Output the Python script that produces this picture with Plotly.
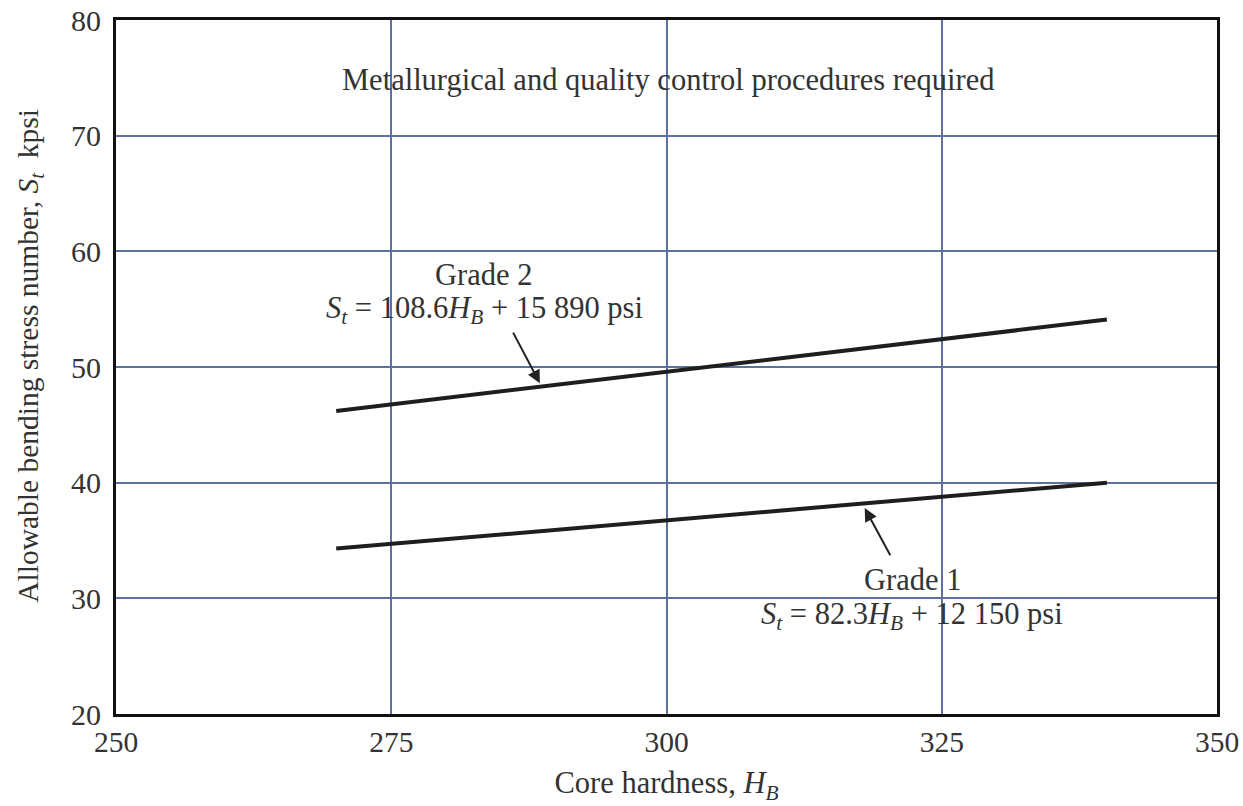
import plotly.graph_objects as go

# ---- data ----
hardness = [270, 340]
grade2_kpsi = [46.2, 54.1]
grade1_kpsi = [34.3, 40.0]
x_ticks = [250, 275, 300, 325, 350]
y_ticks = [20, 30, 40, 50, 60, 70, 80]

FONT = "Liberation Serif"
TXT = "#333333"
GRID = "rgb(95,112,160)"

fig = go.Figure()
fig.add_trace(go.Scatter(x=hardness, y=grade2_kpsi, mode="lines", name="Grade 2",
                         line=dict(color="#1e1e1e", width=4), showlegend=False))
fig.add_trace(go.Scatter(x=hardness, y=grade1_kpsi, mode="lines", name="Grade 1",
                         line=dict(color="#1e1e1e", width=4), showlegend=False))

ann_font = dict(family=FONT, size=30.5, color=TXT)
annotations = [
    dict(x=300.1, y=74.8, text="Metallurgical and quality control procedures required",
         showarrow=False, font=ann_font, xref="x", yref="y"),
    dict(x=283.4, y=57.95, text="Grade 2", showarrow=False, font=ann_font, xref="x", yref="y"),
    dict(x=283.5, y=54.9,
         text="<i>S</i><sub><i>t</i></sub> = 108.6<i>H</i><sub><i>B</i></sub> + 15 890 psi",
         showarrow=False, font=ann_font, xref="x", yref="y"),
    dict(x=322.3, y=31.6, text="Grade 1", showarrow=False, font=ann_font, xref="x", yref="y"),
    dict(x=322.3, y=28.45,
         text="<i>S</i><sub><i>t</i></sub> = 82.3<i>H</i><sub><i>B</i></sub> + 12 150 psi",
         showarrow=False, font=ann_font, xref="x", yref="y"),
    # arrows
    dict(x=288.5, y=48.6, ax=286.0, ay=53.1, axref="x", ayref="y", xref="x", yref="y",
         text="", showarrow=True, arrowhead=2, arrowsize=1.3, arrowwidth=2, arrowcolor="#222222"),
    dict(x=318.0, y=37.8, ax=320.4, ay=33.6, axref="x", ayref="y", xref="x", yref="y",
         text="", showarrow=True, arrowhead=2, arrowsize=1.3, arrowwidth=2, arrowcolor="#222222"),
]

fig.update_layout(
    width=1243, height=806,
    margin=dict(l=116, r=26, t=20, b=92),
    paper_bgcolor="white", plot_bgcolor="white",
    font=dict(family=FONT, size=30, color=TXT),
    annotations=annotations,
    xaxis=dict(
        range=[250, 350], tickvals=x_ticks, ticktext=[str(v) for v in x_ticks],
        showgrid=True, gridcolor=GRID, gridwidth=1.5, zeroline=False,
        showline=True, linecolor="#111111", linewidth=3, mirror=True,
        ticks="", ticklabelstandoff=0, ticklabeloverflow="allow",
        tickfont=dict(family=FONT, size=29.5, color=TXT),
        title=dict(text="Core hardness, <i>H</i><sub><i>B</i></sub>",
                   font=dict(family=FONT, size=30.5, color=TXT), standoff=15),
        automargin=False,
    ),
    yaxis=dict(
        range=[20, 80], tickvals=y_ticks, ticktext=[str(v) for v in y_ticks],
        showgrid=True, gridcolor=GRID, gridwidth=1.5, zeroline=False,
        showline=True, linecolor="#111111", linewidth=3, mirror=True,
        ticks="", ticklabelstandoff=6, ticklabeloverflow="allow",
        tickfont=dict(family=FONT, size=30, color=TXT),
        title=dict(text="&nbsp;&nbsp;&nbsp;Allowable bending stress number, <i>S</i><sub><i>t</i></sub>  kpsi",
                   font=dict(family=FONT, size=29.5, color=TXT), standoff=24),
        automargin=False,
    ),
)

# remove the default page margin so the 1243x806 figure fills the window exactly
fig.write_html("out.html", config={"displayModeBar": False},
               post_script="document.body.style.margin='0';")
